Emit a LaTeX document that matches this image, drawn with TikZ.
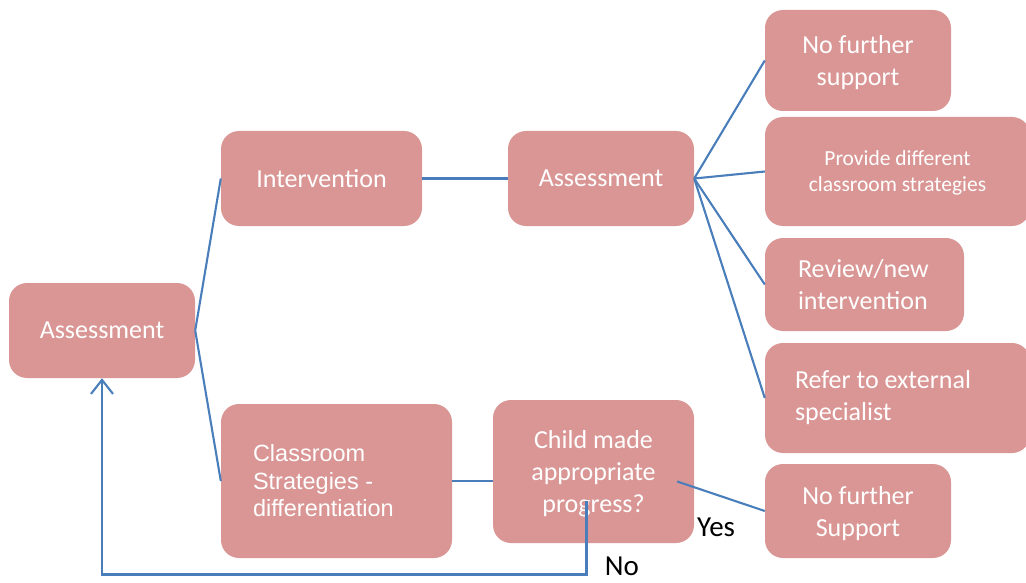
\documentclass[tikz,border=0pt]{standalone}
\usepackage{fontspec}
\setmainfont{Carlito}
\newfontfamily\arialfont{Liberation Sans}
\usepackage{tikz}
\usetikzlibrary{arrows.meta, positioning, calc}
\definecolor{boxfill}{HTML}{D99694}
\definecolor{linkblue}{HTML}{4A7EBB}

\begin{document}
\begin{tikzpicture}[
    x=1pt, y=-1pt,
    every node/.style={font=\fontsize{26}{32}\selectfont},
    boxbase/.style={rectangle, fill=boxfill, rounded corners=18pt, text=white, inner sep=0pt},
    block/.style={boxbase, align=center, text depth=0pt},
    leftblock/.style={boxbase, align=flush left},
    link/.style={draw=linkblue, line width=2.1pt},
    answer/.style={text=black, inner sep=0pt, font=\fontsize{29}{34}\selectfont}
]
\useasboundingbox (0,0) rectangle (1026,583);

% First assessment and its two routes
\node[block, minimum width=186pt, minimum height=95pt] (assess1) at (102,330.5) {Assessment};
\node[block, minimum width=201pt, minimum height=95pt] (interv) at (321.5,178.5) {Intervention};
\node[leftblock, minimum width=231pt, minimum height=154pt, text width=167pt,
      font=\arialfont\fontsize{23.5}{27.5}\selectfont] (classroom) at (336.5,481)
      {Classroom\\Strategies -\\differentiation};

% Second step
\node[block, minimum width=186pt, minimum height=95pt] (assess2) at (601,178.5) {Assessment};
\node[block, minimum width=201pt, minimum height=143pt] (child) at (593.5,471.5)
      {Child made\\appropriate\\progress?};

% Outcomes
\node[block, minimum width=186pt, minimum height=101pt] (support1) at (858,60.5) {No further\\support};
\node[block, minimum width=265pt, minimum height=109pt, font=\fontsize{21.5}{26}\selectfont]
      (provide) at (897.5,171.5) {Provide different\\classroom strategies};
\node[leftblock, minimum width=199pt, minimum height=93pt, text width=133pt]
      (review) at (864.5,284.5) {Review/new\\intervention};
\node[leftblock, minimum width=265pt, minimum height=110pt, text width=205pt]
      (refer) at (897.5,398) {Refer to external\\specialist};
\node[block, minimum width=186pt, minimum height=94pt] (support2) at (858,511) {No further\\Support};

% Connectors
\draw[link] (assess1.east) -- (interv.west);
\draw[link] (assess1.east) -- (classroom.west);
\draw[link] (interv.east) -- (assess2.west);
\foreach \t in {support1, provide, review, refer}
    \draw[link] (assess2.east) -- (\t.west);
\draw[link] (classroom.east) -- (classroom.east -| child.west);
\draw[link] ($(child.east)+(-17,10)$) -- (support2.west);
\draw[link, -{Straight Barb[length=14pt, width=22pt]}]
    ($(child.center)+(-7,29)$) -- ++(0,74) -| (assess1.south);

% Labels
\node[answer, anchor=west] (yes) at (697,527) {Yes};
\node[answer] (no) at (622,566) {No};

\end{tikzpicture}
\end{document}
